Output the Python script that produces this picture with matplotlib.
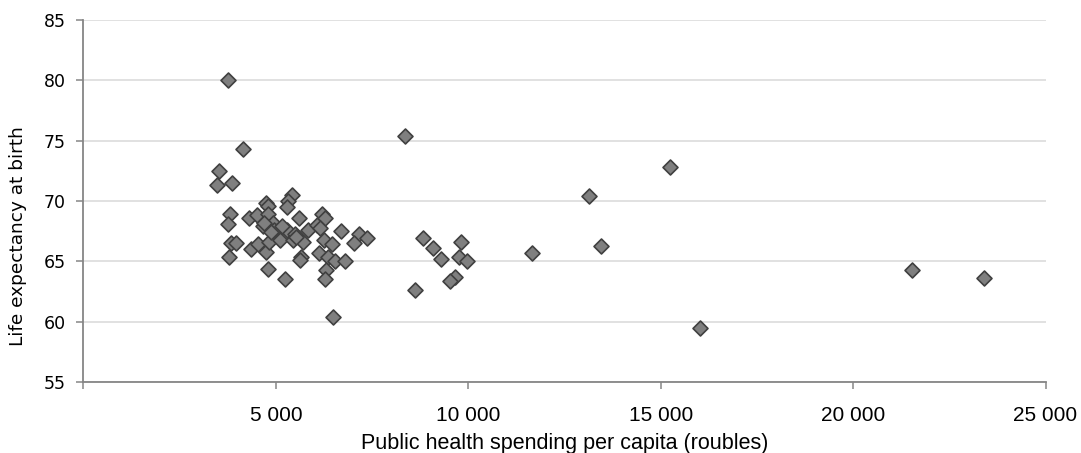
import matplotlib
matplotlib.use("Agg")
import matplotlib.pyplot as plt
from matplotlib.ticker import FuncFormatter

# Public health spending per capita (roubles) and life expectancy at birth by region
spending = [
    3750, 4140, 3520, 3460, 3850, 3810, 3760, 3830, 3960, 3770,
    4310, 4520, 4350, 4540, 4740, 4800, 5240, 4740, 4790, 4800,
    4660, 4930, 5020, 4830, 5110, 5300, 5410, 5320, 5280, 5500,
    5440, 5610, 5710, 5650, 5630, 5840, 6060, 6190, 6280, 6150,
    6250, 6460, 6130, 6360, 6540, 6300, 6280, 6800, 6690, 7160,
    7040, 7360, 6490, 8360, 8820, 9090, 9290, 8620, 9810, 9760,
    9960, 9660, 9530, 11650, 13130, 15240, 13450, 21540, 23400, 16020,
    4960, 5520, 4700, 5150, 4880,
]
life_expectancy = [
    80.0, 74.3, 72.5, 71.3, 71.5, 68.9, 68.1, 66.5, 66.5, 65.4,
    68.6, 68.8, 66.0, 66.4, 65.8, 64.4, 63.5, 69.8, 69.6, 68.9,
    67.9, 68.2, 67.5, 66.6, 66.8, 67.6, 70.5, 70.0, 69.5, 67.3,
    66.8, 68.6, 66.6, 65.4, 65.1, 67.6, 68.0, 68.9, 68.6, 67.8,
    66.8, 66.4, 65.7, 65.4, 65.0, 64.3, 63.5, 65.0, 67.5, 67.3,
    66.5, 66.9, 60.4, 75.4, 66.9, 66.1, 65.2, 62.6, 66.6, 65.4,
    65.0, 63.7, 63.4, 65.7, 70.4, 72.8, 66.3, 64.3, 63.6, 59.5,
    67.6, 67.0, 68.2, 67.9, 67.4,
]

x_ticks = [0, 5000, 10000, 15000, 20000, 25000]
y_ticks = [55, 60, 65, 70, 75, 80, 85]

fig = plt.figure(figsize=(10.81, 4.53), dpi=100)
ax = fig.add_axes([0.0772, 0.1567, 0.8900, 0.7991])

ax.scatter(spending, life_expectancy, marker="D", s=58,
           facecolor="#7f7f7f", edgecolor="#404040", linewidth=1.2,
           zorder=3)

ax.set_xlim(0, 25000)
ax.set_ylim(55, 85)
ax.set_xticks(x_ticks)
ax.set_yticks(y_ticks)


def thousands(v, pos):
    if v == 0:
        return ""
    return f"{int(v):,}".replace(",", " ")


ax.xaxis.set_major_formatter(FuncFormatter(thousands))

ax.grid(axis="y", color="#d9d9d9", linewidth=1.1, zorder=0)
ax.set_axisbelow(True)

for side in ("top", "right"):
    ax.spines[side].set_visible(False)
for side in ("left", "bottom"):
    ax.spines[side].set_color("#868686")
    ax.spines[side].set_linewidth(1.3)

ax.tick_params(axis="both", direction="out", length=5, width=1.1,
               color="#868686")
ax.tick_params(axis="y", labelsize=12.5, pad=8)
ax.tick_params(axis="x", pad=12)
for lbl in ax.get_xticklabels():
    lbl.set_fontfamily("Liberation Sans")
    lbl.set_fontsize(15)

ax.set_xlabel("Public health spending per capita (roubles)",
              fontfamily="Liberation Sans", fontsize=15.5, labelpad=6)
ax.set_ylabel("Life expectancy at birth", fontsize=13.3)
ax.yaxis.set_label_coords(-0.059, 0.403)

fig.savefig("out.png", dpi=100)
